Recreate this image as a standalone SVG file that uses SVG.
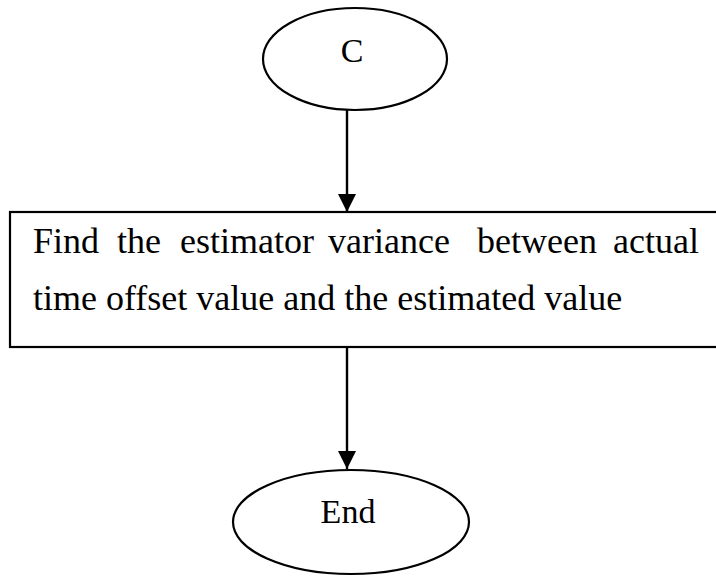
<svg xmlns="http://www.w3.org/2000/svg" width="716" height="577" viewBox="0 0 716 577">
  <style>
    .shape { fill: #ffffff; stroke: #000000; stroke-width: 2.2; }
    .edge { fill: none; stroke: #000000; stroke-width: 2.4; }
    .label { font-family: "Liberation Serif", "Times New Roman", serif; fill: #000000; }
  </style>
  <defs>
    <marker id="arrow" markerUnits="userSpaceOnUse" markerWidth="20" markerHeight="18" refX="18" refY="9" orient="auto">
      <path d="M0,0 L18,9 L0,18 Z" fill="#000000"/>
    </marker>
  </defs>
  <rect width="716" height="577" fill="#ffffff"/>

  <g id="connectors">
    <line class="edge" x1="347" y1="110" x2="347" y2="212" marker-end="url(#arrow)"/>
    <line class="edge" x1="347" y1="347" x2="347" y2="469" marker-end="url(#arrow)"/>
  </g>

  <g id="node-c">
    <ellipse class="shape" cx="355" cy="59" rx="92" ry="51"/>
    <text class="label" x="352" y="62" font-size="34" text-anchor="middle">C</text>
  </g>

  <g id="node-process">
    <rect class="shape" x="10" y="212" width="720" height="135"/>
    <text class="label" y="253" font-size="36">
      <tspan x="33">Find</tspan>
      <tspan x="117">the</tspan>
      <tspan x="180">estimator</tspan>
      <tspan x="328">variance</tspan>
      <tspan x="477">between</tspan>
      <tspan x="613">actual</tspan>
    </text>
    <text class="label" x="33" y="310" font-size="36">time offset value and the estimated value</text>
  </g>

  <g id="node-end">
    <ellipse class="shape" cx="351" cy="522" rx="118" ry="52"/>
    <text class="label" x="348" y="523" font-size="34" text-anchor="middle">End</text>
  </g>
</svg>
